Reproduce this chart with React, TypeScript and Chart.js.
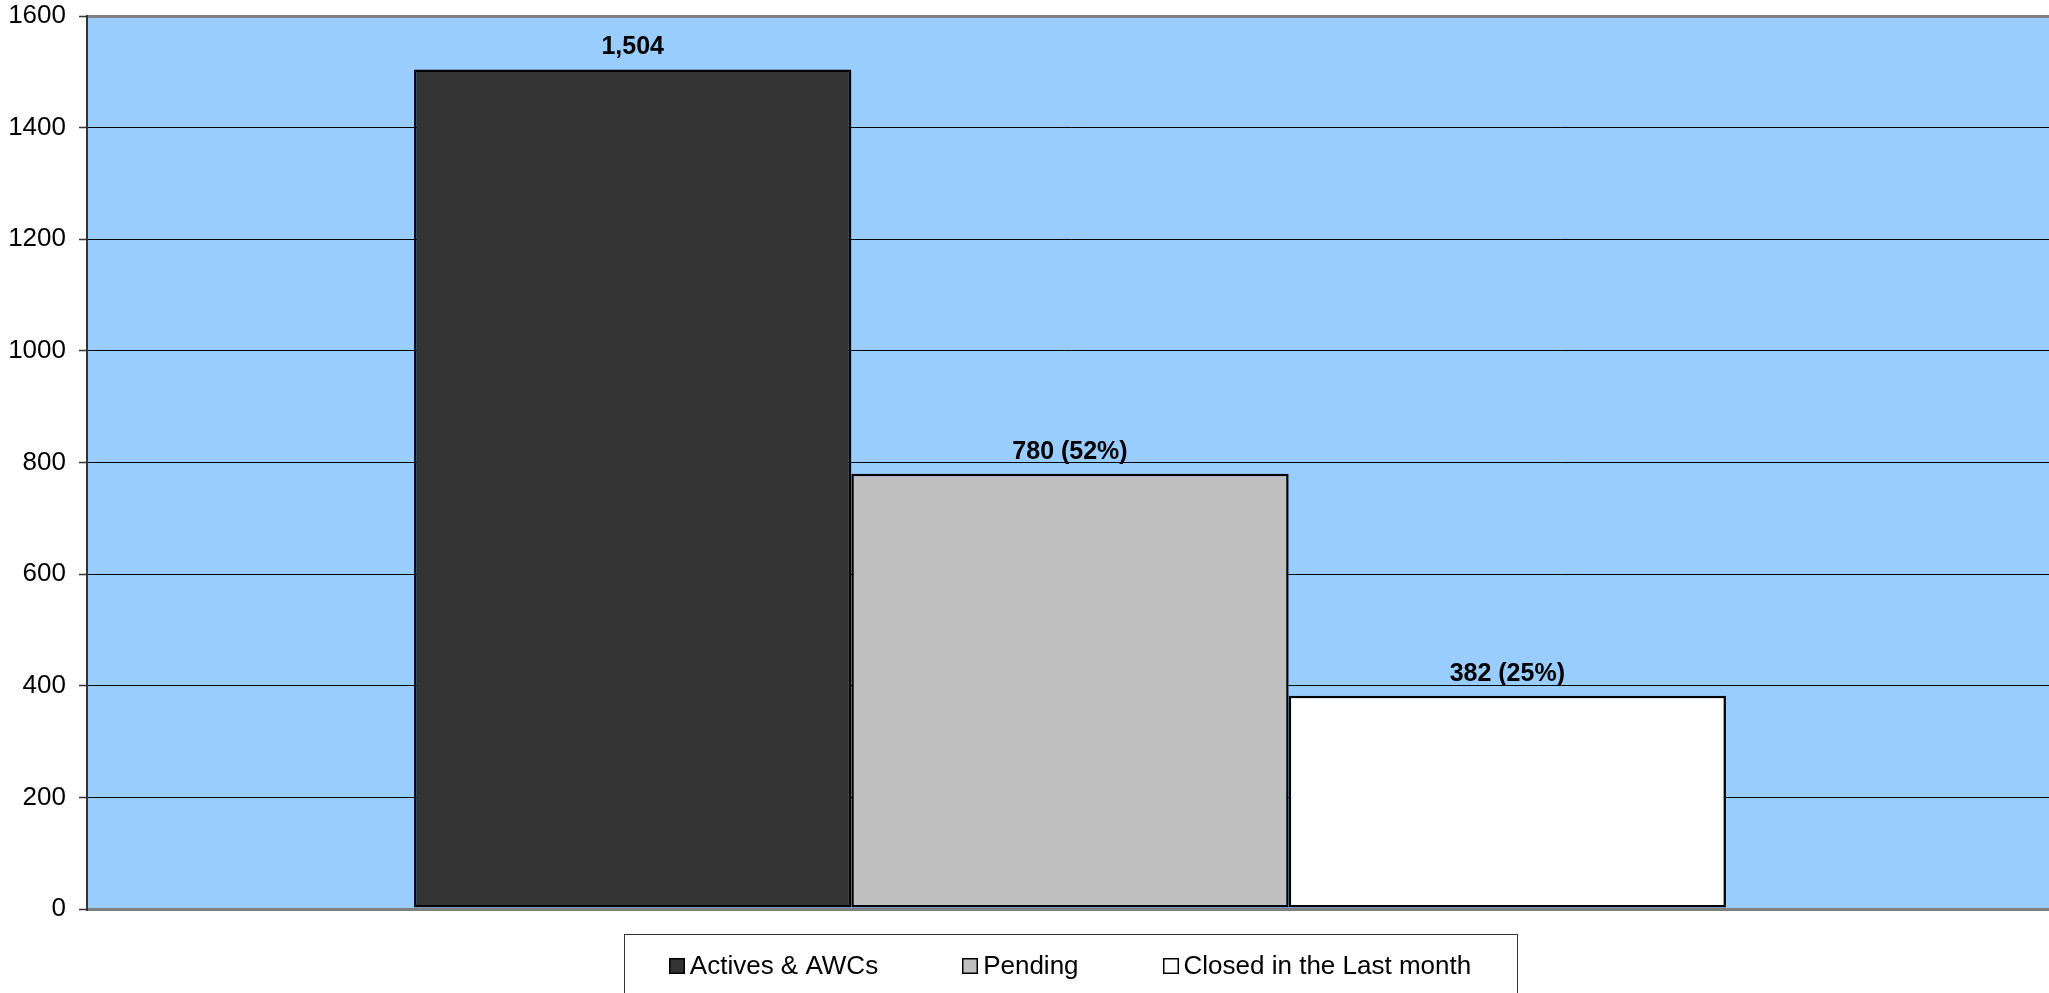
import React, { useEffect, useRef } from "react";
import { Chart, registerables } from "chart.js";

Chart.register(...registerables);

const categories = [""];
const seriesNames = ["Actives & AWCs", "Pending", "Closed in the Last month"];
const seriesValues = [1504, 780, 382];
const valueLabels = ["1,504", "780 (52%)", "382 (25%)"];
const seriesColors = ["#333333", "#C0C0C0", "#FFFFFF"];
const yMin = 0;
const yMax = 1600;
const yStep = 200;

const FONT = "'Liberation Sans', Arial, Helvetica, sans-serif";
const CANVAS_W = 2053;
const CANVAS_H = 1010;

const plotBackground = {
  id: "plotBackground",
  beforeDraw(chart: any) {
    const { ctx, chartArea } = chart;
    ctx.save();
    ctx.fillStyle = "#99CCFF";
    ctx.fillRect(chartArea.left, chartArea.top, chartArea.right - chartArea.left, chartArea.bottom - chartArea.top);
    ctx.restore();
  },
};

const barLabels = {
  id: "barLabels",
  afterDatasetsDraw(chart: any) {
    const { ctx } = chart;
    ctx.save();
    ctx.font = `bold 25px ${FONT}`;
    ctx.fillStyle = "#000";
    ctx.textAlign = "center";
    ctx.textBaseline = "middle";
    chart.data.datasets.forEach((_ds: any, i: number) => {
      const meta = chart.getDatasetMeta(i);
      meta.data.forEach((el: any) => {
        ctx.fillText(valueLabels[i], el.x, el.y - 22);
      });
    });
    ctx.restore();
  },
};

const boxedLegend = {
  id: "boxedLegend",
  afterDraw(chart: any) {
    const { ctx, chartArea } = chart;
    const cx = (chartArea.left + chartArea.right) / 2;
    const boxW = 893;
    const boxH = 64;
    const boxTop = chartArea.bottom + 25;
    const boxLeft = cx - boxW / 2;
    ctx.save();
    ctx.strokeStyle = "#333";
    ctx.lineWidth = 1;
    ctx.strokeRect(Math.round(boxLeft) + 0.5, Math.round(boxTop) + 0.5, boxW, boxH);
    ctx.font = `26px ${FONT}`;
    ctx.textBaseline = "middle";
    ctx.textAlign = "left";
    const sq = 16;
    const gapText = 5;
    const gapItem = 84;
    const widths = seriesNames.map((n) => ctx.measureText(n).width);
    const total = widths.reduce((a, w) => a + sq + gapText + w, 0) + gapItem * (seriesNames.length - 1);
    let x = cx - total / 2;
    const midY = boxTop + 32;
    seriesNames.forEach((name, i) => {
      ctx.fillStyle = seriesColors[i];
      ctx.fillRect(Math.round(x), Math.round(midY - sq / 2), sq, sq);
      ctx.strokeStyle = "#000";
      ctx.lineWidth = 1.5;
      ctx.strokeRect(Math.round(x) + 0.75, Math.round(midY - sq / 2) + 0.75, sq - 1.5, sq - 1.5);
      ctx.fillStyle = "#000";
      ctx.fillText(name, x + sq + gapText, midY + 1);
      x += sq + gapText + widths[i] + gapItem;
    });
    ctx.restore();
  },
};

export default function App() {
  const canvasRef = useRef<HTMLCanvasElement | null>(null);

  useEffect(() => {
    if (!canvasRef.current) return;
    Chart.defaults.font.family = FONT;
    const chart = new Chart(canvasRef.current, {
      type: "bar",
      data: {
        labels: categories,
        datasets: seriesNames.map((name, i) => ({
          label: name,
          data: [seriesValues[i]],
          backgroundColor: seriesColors[i],
          borderColor: "#000000",
          borderWidth: 2.5,
          borderSkipped: false,
          categoryPercentage: 0.6673,
          barPercentage: 1,
        })),
      },
      options: {
        responsive: false,
        animation: false,
        devicePixelRatio: 1,
        layout: { padding: { left: 0, right: 0, top: 16, bottom: CANVAS_H - 909 } },
        plugins: {
          legend: { display: false },
          tooltip: { enabled: false },
          title: { display: false },
        },
        scales: {
          x: {
            display: false,
            offset: true,
          },
          y: {
            min: yMin,
            max: yMax,
            afterFit(scale: any) {
              scale.width = 87;
              scale.paddingTop = 0;
              scale.paddingBottom = 0;
            },
            ticks: {
              stepSize: yStep,
              color: "#000",
              padding: 13,
              font: { size: 26, family: FONT },
              callback: (v: any) => String(v),
            },
            grid: {
              color: (c: any) => (c.tick && (c.tick.value === yMin || c.tick.value === yMax) ? "#808080" : "#000000"),
              lineWidth: (c: any) => (c.tick && (c.tick.value === yMin || c.tick.value === yMax) ? 3 : 1),
              tickColor: "#333",
              tickLength: 8,
              tickWidth: 1.5,
            },
            border: { display: true, color: "#333", width: 2 },
          },
        },
      },
      plugins: [plotBackground, barLabels, boxedLegend],
    });
    return () => chart.destroy();
  }, []);

  return (
    <div
      style={{
        position: "fixed",
        left: 0,
        top: 0,
        width: "2049px",
        height: "993px",
        overflow: "hidden",
        background: "#fff",
      }}
    >
      <canvas
        ref={canvasRef}
        width={CANVAS_W}
        height={CANVAS_H}
        style={{ display: "block", width: CANVAS_W + "px", height: CANVAS_H + "px" }}
      />
    </div>
  );
}
